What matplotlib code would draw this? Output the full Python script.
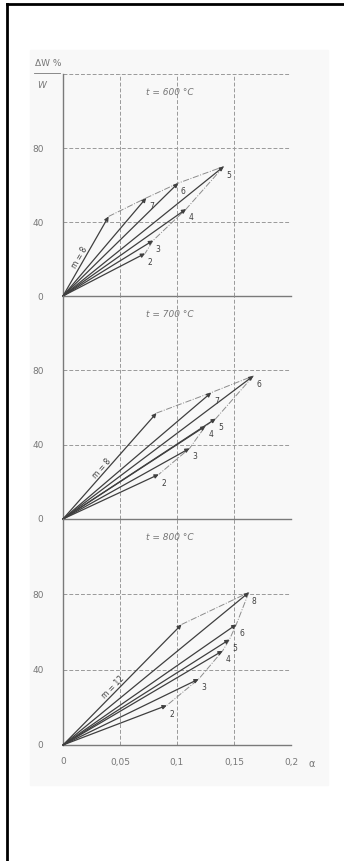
import numpy as np
import matplotlib
matplotlib.use("Agg")
import matplotlib.pyplot as plt
from matplotlib.patches import Rectangle
from matplotlib.lines import Line2D

# values
temps = ["t = 600 °C", "t = 700 °C", "t = 800 °C"]

m_600 = [8, 7, 6, 5, 4, 3, 2]
x_600 = [0.040, 0.073, 0.101, 0.141, 0.108, 0.079, 0.072]
y_600 = [43, 53, 61, 70, 47, 30, 23]

m_700 = [8, 7, 6, 5, 4, 3, 2]
x_700 = [0.082, 0.130, 0.167, 0.134, 0.125, 0.111, 0.084]
y_700 = [57, 68, 77, 54, 50, 38, 24]

m_800 = [12, 8, 6, 5, 4, 3, 2]
x_800 = [0.104, 0.163, 0.152, 0.146, 0.140, 0.119, 0.091]
y_800 = [64, 81, 64, 56, 50, 35, 21]

x_ticks = [0, 0.05, 0.1, 0.15, 0.2]
x_tick_labels = ["0", "0,05", "0,1", "0,15", "0,2"]
y_ticks = [0, 40, 80]

LINE = "#3f3f3f"
GRID = "#9a9a9a"
TXT = "#777777"

W, H = 344, 861
fig = plt.figure(figsize=(W / 100, H / 100), dpi=100)

# faint scan background + frame (left and top edges)
bg = Rectangle((30 / W, 1 - 785 / H), 298 / W, 735 / H,
               transform=fig.transFigure, color="#f8f8f8", zorder=-5)
fig.add_artist(bg)
fig.add_artist(Line2D([7 / W, 7 / W], [0, 1 - 4 / H], color="black", lw=2,
                      transform=fig.transFigure))
fig.add_artist(Line2D([7 / W, 1], [1 - 4 / H, 1 - 4 / H], color="black", lw=2,
                      transform=fig.transFigure))

panels = [(m_600, x_600, y_600), (m_700, x_700, y_700), (m_800, x_800, y_800)]
tops = [74, 296, 519]
bottoms = [296, 519, 745]
left, right = 63, 291

for i, (ms, xs, ys) in enumerate(panels):
    ax = fig.add_axes([left / W, 1 - bottoms[i] / H, (right - left) / W,
                       (bottoms[i] - tops[i]) / H])
    ax.set_facecolor("none")
    ax.set_xlim(0, 0.2)
    ax.set_ylim(0, 120)
    for s in ["top", "right"]:
        ax.spines[s].set_visible(False)
    for s in ["left", "bottom"]:
        ax.spines[s].set_color("#7a7a7a")
        ax.spines[s].set_linewidth(1.0)
    for gx in x_ticks[1:]:
        ax.axvline(gx, color=GRID, lw=0.7, ls=(0, (4, 2)), zorder=1)
    for gy in y_ticks[1:]:
        ax.axhline(gy, color=GRID, lw=0.7, ls=(0, (4, 2)), zorder=1)
    if i == 0:
        ax.axhline(120, color=GRID, lw=0.7, ls=(0, (4, 2)), zorder=1)

    ax.set_yticks(y_ticks)
    ax.set_yticklabels([str(v) for v in y_ticks])
    ax.set_xticks(x_ticks)
    if i == 2:
        ax.set_xticklabels(x_tick_labels)
    else:
        ax.set_xticklabels([])
    ax.tick_params(length=0, labelsize=6.5, labelcolor=TXT, pad=9)
    ax.tick_params(axis="y", pad=14)

    ax.text(0.094, 110, temps[i], fontsize=6.5, style="italic", color=TXT,
            ha="center", va="center")

    # fan of arrows from origin
    for m, tx, ty in zip(ms, xs, ys):
        ax.annotate("", xy=(tx, ty), xytext=(0, 0),
                    arrowprops=dict(arrowstyle="-|>", color=LINE, lw=0.9,
                                    mutation_scale=6, shrinkA=0, shrinkB=0),
                    zorder=3)

    # envelope through the tips (dash-dot)
    k = int(np.argmax(xs))
    ax.plot(xs[:k + 1], ys[:k + 1], color="#8c8c8c", lw=0.7, ls="-.", zorder=2)
    ax.plot(xs[k:], ys[k:], color="#8c8c8c", lw=0.7, ls="-.", zorder=2)

    # labels: first line along its length, the rest next to the tips
    fig.canvas.draw()
    p0 = ax.transData.transform((0, 0))
    p1 = ax.transData.transform((xs[0], ys[0]))
    ang = np.degrees(np.arctan2(p1[1] - p0[1], p1[0] - p0[0]))
    ax.text(xs[0] * 0.45, ys[0] * 0.45, f"m = {ms[0]}", fontsize=5.5,
            color=LINE, rotation=ang, ha="center", va="bottom",
            rotation_mode="anchor")
    for m, tx, ty in zip(ms[1:], xs[1:], ys[1:]):
        ax.annotate(str(m), xy=(tx, ty), xytext=(2, -8), textcoords="offset points",
                    fontsize=5.5, color=LINE)

    if i == 2:
        ax.text(0.2 + 0.018, -7.5, "α", fontsize=7, color=TXT, ha="center",
                va="top", transform=ax.transData, clip_on=False)

# y-axis quantity label: ΔW % over W
fig.text(35 / W, 1 - 63 / H, "ΔW %", fontsize=6.5, color=TXT, va="center")
fig.add_artist(Line2D([34 / W, 60 / W], [1 - 73 / H, 1 - 73 / H], color=TXT,
                      lw=0.6, transform=fig.transFigure))
fig.text(37 / W, 1 - 85 / H, "W", fontsize=6.5, color=TXT, va="center",
         style="italic")

fig.savefig("out.png", dpi=100)
